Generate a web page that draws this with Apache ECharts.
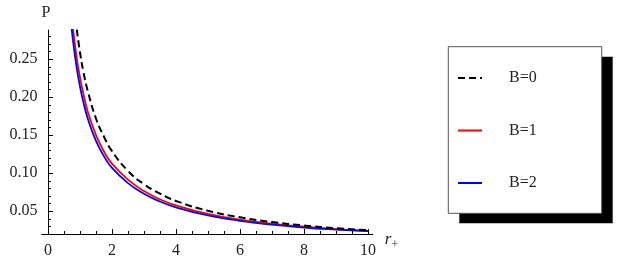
<!DOCTYPE html>
<html>
<head>
<meta charset="utf-8">
<script src="https://cdn.jsdelivr.net/npm/echarts@6/dist/echarts.min.js"></script>
<style>
html,body{margin:0;padding:0;background:#fff;}
#c{width:627px;height:274px;}
</style>
</head>
<body>
<div id="c"></div>
<script>
// ---- data ----
const seriesNames = ['B=0', 'B=1', 'B=2'];
const rB0 = [0.90, 1.00, 1.10, 1.25, 1.50, 1.75, 2.00, 2.50, 3.00, 3.50, 4.00, 5.00, 6.00, 7.00, 8.00, 9.00, 10.0];
const pB0 = [0.289, 0.259, 0.235, 0.207, 0.172, 0.148, 0.129, 0.103, 0.0855, 0.0730, 0.0635, 0.0505, 0.0420, 0.0358, 0.0312, 0.0277, 0.0250];
const rB1 = [0.78, 0.90, 1.00, 1.10, 1.25, 1.50, 1.75, 2.00, 2.50, 3.00, 3.50, 4.00, 5.00, 6.00, 7.00, 8.00, 9.00, 10.0];
const pB1 = [0.291, 0.251, 0.226, 0.2055, 0.180, 0.150, 0.1285, 0.1125, 0.0915, 0.0765, 0.0657, 0.0577, 0.0464, 0.0389, 0.0336, 0.0296, 0.0265, 0.0242];
const rB2 = [0.74, 0.80, 0.90, 1.00, 1.10, 1.25, 1.50, 1.75, 2.00, 2.50, 3.00, 3.50, 4.00, 5.00, 6.00, 7.00, 8.00, 9.00, 10.0];
const pB2 = [0.290, 0.268, 0.238, 0.214, 0.1945, 0.171, 0.1425, 0.1222, 0.1070, 0.0870, 0.0730, 0.0628, 0.0550, 0.0444, 0.0373, 0.0322, 0.0285, 0.0258, 0.0237];
const xMajorTicks = [0, 2, 4, 6, 8, 10];
const xMinorTicks = [0.5, 1, 1.5, 2.5, 3, 3.5, 4.5, 5, 5.5, 6.5, 7, 7.5, 8.5, 9, 9.5];
const yMajorTicks = [0.05, 0.10, 0.15, 0.20, 0.25];
const yMinorTicks = [0.03, 0.04, 0.06, 0.07, 0.08, 0.09, 0.11, 0.12, 0.13, 0.14, 0.16, 0.17, 0.18, 0.19, 0.21, 0.22, 0.23, 0.24, 0.26, 0.27, 0.28];

function pairs(xs, ys) { return xs.map((x, i) => [x, ys[i]]); }

const FONT = '"Liberation Serif", "DejaVu Serif", serif';
const X_MIN = -0.2, X_MAX = 10.15, Y_MIN = 0.02, Y_MAX = 0.2884;

const chart = echarts.init(document.getElementById('c'), null, {renderer: 'canvas'});

const baseX = {
  type: 'value', min: X_MIN, max: X_MAX, position: 'bottom',
  splitLine: {show: false}
};
const baseY = {
  type: 'value', min: Y_MIN, max: Y_MAX, position: 'left',
  splitLine: {show: false}
};

chart.setOption({
  animation: false,
  backgroundColor: '#ffffff',
  grid: {left: 41.6, top: 30, width: 331.2, height: 204, containLabel: false},
  xAxis: [
    Object.assign({}, baseX, {
      name: '{r|r}{s|+}',
      nameLocation: 'end',
      nameGap: 12,
      nameTextStyle: {
        padding: [12, 0, 0, 0],
        rich: {
          r: {fontFamily: FONT, fontStyle: 'italic', fontSize: 17, color: '#222'},
          s: {fontFamily: FONT, fontSize: 12, color: '#222', padding: [10, 0, 0, 0]}
        }
      },
      axisLine: {onZero: false, lineStyle: {color: '#000', width: 1}},
      axisTick: {inside: true, length: 5, customValues: xMajorTicks, lineStyle: {color: '#000'}},
      axisLabel: {customValues: xMajorTicks, margin: 9, fontFamily: FONT, fontSize: 16, color: '#222',
        formatter: v => String(Math.round(v))}
    }),
    Object.assign({}, baseX, {
      axisLine: {onZero: false, lineStyle: {color: '#000', opacity: 0}},
      axisTick: {inside: true, length: 3, customValues: xMinorTicks, lineStyle: {color: '#000'}},
      axisLabel: {show: false}
    })
  ],
  yAxis: [
    Object.assign({}, baseY, {
      name: 'P',
      nameLocation: 'end',
      nameGap: 9,
      nameTextStyle: {fontFamily: FONT, fontSize: 16, color: '#222', padding: [0, 4, 0, 0]},
      axisLine: {onZero: true, onZeroAxisIndex: 0, lineStyle: {color: '#000', width: 1}},
      axisTick: {inside: true, length: 5, customValues: yMajorTicks, lineStyle: {color: '#000'}},
      axisLabel: {customValues: yMajorTicks, margin: 4, fontFamily: FONT, fontSize: 16, color: '#222',
        formatter: v => v.toFixed(2)}
    }),
    Object.assign({}, baseY, {
      axisLine: {onZero: true, onZeroAxisIndex: 0, lineStyle: {color: '#000', opacity: 0}},
      axisTick: {inside: true, length: 3, customValues: yMinorTicks, lineStyle: {color: '#000'}},
      axisLabel: {show: false}
    })
  ],
  legend: {
    orient: 'vertical',
    left: 457, top: 70,
    padding: 0,
    itemWidth: 24, itemHeight: 14,
    itemGap: 36.5,
    data: seriesNames,
    itemStyle: {color: 'transparent', borderWidth: 0, opacity: 0},
    textStyle: {fontFamily: FONT, fontSize: 16, color: '#222', lineHeight: 14, padding: [0, 0, 0, 22]}
  },
  graphic: [
    {type: 'rect', z: 1, shape: {x: 459.3, y: 56.7, width: 153.4, height: 166.6}, style: {fill: '#000'}},
    {type: 'rect', z: 2, shape: {x: 448.3, y: 46.7, width: 153.4, height: 166.6}, style: {fill: '#fff', stroke: '#555', lineWidth: 1}}
  ],
  series: [
    {name: seriesNames[0], type: 'line', data: pairs(rB0, pB0), showSymbol: false, symbol: 'none',
      smooth: 0.5, clip: true, z: 3,
      lineStyle: {color: '#000', width: 2, type: [7, 4]}, itemStyle: {color: '#000'}},
    {name: seriesNames[1], type: 'line', data: pairs(rB1, pB1), showSymbol: false, symbol: 'none',
      smooth: 0.5, clip: true, z: 2,
      lineStyle: {color: '#ff0000', width: 1.8}, itemStyle: {color: '#ff0000'}},
    {name: seriesNames[2], type: 'line', data: pairs(rB2, pB2), showSymbol: false, symbol: 'none',
      smooth: 0.5, clip: true, z: 2,
      lineStyle: {color: '#0000ff', width: 1.8}, itemStyle: {color: '#0000ff'}}
  ]
});
</script>
</body>
</html>
